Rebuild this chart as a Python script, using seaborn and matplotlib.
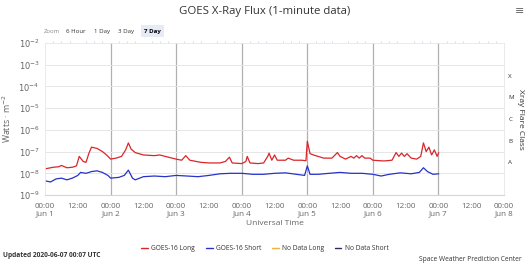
import matplotlib
matplotlib.use("Agg")
import matplotlib.pyplot as plt
import seaborn as sns
import pandas as pd
import numpy as np
from matplotlib.lines import Line2D

# ---- data (hours since 2020-06-01 00:00 UTC, W/m^2) ----
long_hours = [0, 3, 5, 6, 8, 10, 11.5, 12.5, 14, 15, 16, 17, 19, 21, 22.5, 24, 26, 28, 29.5, 30.5,
              31.5, 33, 36, 40, 42, 44, 48, 50, 51.5, 53, 57, 60, 64, 66, 67.5, 68.5, 72, 73.5, 74, 75,
              78, 80, 81.5, 82, 83, 84, 85, 88, 89, 91, 94, 95.5, 96, 97, 99, 102, 105, 107, 108, 110,
              112, 113, 114, 115, 116, 117, 119, 120, 124, 127, 128.5, 129.5, 130.5, 131.5, 132.5, 134,
              136, 137.5, 138.5, 139.5, 140.5, 141.5, 142.5, 143.5, 144.1]
long_flux = [1.6e-8, 1.9e-8, 2.0e-8, 2.3e-8, 1.8e-8, 1.9e-8, 2.2e-8, 6e-8, 3.5e-8, 3.2e-8, 8e-8, 1.6e-7,
             1.4e-7, 1.0e-7, 7e-8, 4.5e-8, 5e-8, 6e-8, 1.2e-7, 2.5e-7, 1.3e-7, 9e-8, 7e-8, 6.5e-8, 7e-8,
             6e-8, 4.5e-8, 4e-8, 6.5e-8, 4e-8, 3.2e-8, 3e-8, 3e-8, 3.5e-8, 5.5e-8, 3e-8, 2.8e-8, 3.5e-8,
             6e-8, 3e-8, 2.8e-8, 3e-8, 6e-8, 8.5e-8, 4e-8, 7e-8, 4e-8, 4e-8, 5e-8, 4e-8, 4e-8, 3.8e-8,
             3e-7, 8e-8, 6.5e-8, 5e-8, 5e-8, 9e-8, 6e-8, 4.5e-8, 6e-8, 5e-8, 6.5e-8, 5e-8, 6.5e-8, 5e-8,
             5e-8, 4e-8, 3.7e-8, 4e-8, 9e-8, 6e-8, 8.5e-8, 6e-8, 8e-8, 5e-8, 4.5e-8, 6e-8, 2.5e-7, 1e-7,
             1.6e-7, 7e-8, 1.2e-7, 6e-8, 9e-8]
short_hours = [0, 2, 4, 6, 8, 10, 12, 13, 15, 17, 19, 21, 23, 24, 27, 29, 30.5, 32, 33, 36, 40, 44, 48,
               52, 56, 60, 64, 68, 72, 76, 80, 84, 88, 92, 95, 96, 97, 100, 104, 108, 112, 116, 120,
               123, 126, 130, 134, 137, 138.5, 140, 142, 144.1]
short_flux = [4.5e-9, 4e-9, 5.5e-9, 6e-9, 5e-9, 6e-9, 8e-9, 1.1e-8, 1e-8, 1.2e-8, 1.3e-8, 1.1e-8, 8e-9,
              6e-9, 6.5e-9, 8e-9, 1.4e-8, 6e-9, 5e-9, 7e-9, 7.5e-9, 7e-9, 8e-9, 7.5e-9, 7e-9, 8e-9,
              9.5e-9, 1e-8, 1e-8, 9e-9, 9e-9, 1e-8, 1.05e-8, 9e-9, 8e-9, 2.2e-8, 9e-9, 9e-9, 1e-8,
              1.1e-8, 1e-8, 1e-8, 9e-9, 7.5e-9, 9e-9, 1.05e-8, 9.5e-9, 1.1e-8, 1.8e-8, 1.2e-8, 9e-9,
              9.5e-9]
day_labels = ["Jun 1", "Jun 2", "Jun 3", "Jun 4", "Jun 5", "Jun 6", "Jun 7", "Jun 8"]
flare_classes = ["X", "M", "C", "B", "A"]
series_names = ["GOES-16 Long", "GOES-16 Short", "No Data Long", "No Data Short"]

RED = "#d9262b"
BLUE = "#2632c8"
ORANGE = "#f2b13c"
NAVY = "#2e2a5e"
TXT = "#666666"

df = pd.concat([
    pd.DataFrame({"hours": long_hours, "flux": long_flux, "series": series_names[0]}),
    pd.DataFrame({"hours": short_hours, "flux": short_flux, "series": series_names[1]}),
])

sns.set_style("white")
plt.rcParams['font.family'] = ['Open Sans', 'DejaVu Sans']
plt.rcParams['mathtext.fontset'] = 'dejavusans'

fig = plt.figure(figsize=(5.3, 2.65), dpi=100)
ax = fig.add_axes([0.085, 0.264, 0.866, 0.574])

sns.lineplot(data=df, x="hours", y="flux", hue="series",
             palette={series_names[0]: RED, series_names[1]: BLUE},
             linewidth=0.9, ax=ax, legend=False, estimator=None, sort=False)

ax.set_yscale("log")
ax.set_ylim(1e-9, 1e-2)
ax.set_xlim(0, 168)

# grid
for d in range(1, 7):
    ax.axvline(d * 24, color="#b0b0b0", lw=0.9, zorder=0)
for e in range(-8, -2):
    ax.axhline(10.0 ** e, color="#e6e6e6", lw=0.7, zorder=0)

ax.spines["bottom"].set_color("#ccd6eb")
ax.spines["bottom"].set_linewidth(0.8)
for s in ["left", "right", "top"]:
    ax.spines[s].set_visible(True)
    ax.spines[s].set_color("#e6e6e6")
    ax.spines[s].set_linewidth(0.6)

# x ticks
xt = list(range(0, 169, 12))
xl = []
for h in xt:
    if h % 24 == 0:
        xl.append("00:00\n" + day_labels[h // 24])
    else:
        xl.append("12:00")
ax.set_xticks(xt)
ax.set_xticklabels(xl, fontsize=5.8, color=TXT, va="top", linespacing=1.05)
ax.set_xticks(range(0, 169, 3), minor=True)
ax.tick_params(axis="x", which="major", length=3, color="#ccd6eb", pad=3)
ax.tick_params(axis="x", which="minor", length=1.5, color="#ccd6eb", top=True)
for lab in ax.get_xticklabels():
    lab.set_horizontalalignment("center")

# y ticks
yt = [10.0 ** e for e in range(-9, -1)]
ax.set_yticks(yt)
ax.set_yticklabels([r"$10^{%d}$" % e for e in range(-9, -1)], fontsize=6, color=TXT)
ax.tick_params(axis="y", which="major", length=0, pad=4)
ax.tick_params(axis="y", which="minor", length=1.5, color="#cccccc", left=True)
ax.set_ylabel("Watts · m$^{-2}$", fontsize=6.3, color=TXT, labelpad=4)
ax.set_xlabel("Universal Time", fontsize=6, color=TXT, labelpad=2)

# right axis flare classes
ax2 = ax.twinx()
ax2.set_yscale("log")
ax2.set_ylim(1e-9, 1e-2)
ax2.set_yticks([10.0 ** (-3.5 - i) for i in range(5)])
ax2.set_yticklabels(flare_classes, fontsize=4.5, color="#333333")
ax2.yaxis.set_minor_locator(matplotlib.ticker.NullLocator())
ax2.tick_params(axis="y", length=0, pad=3)
for s in ax2.spines.values():
    s.set_visible(False)
ax2.set_ylabel("Xray Flare Class", fontsize=6, color="#333333", rotation=270, labelpad=7)

# title & extras
fig.text(0.5, 0.955, "GOES X-Ray Flux (1-minute data)", ha="center", va="center", fontsize=8.2, color="#333333")
fig.text(0.98, 0.96, "≡", ha="center", va="center", fontsize=8, color="#666666", family="DejaVu Sans")
fig.text(0.083, 0.883, "Zoom", fontsize=4.2, color="#888888", va="center")
fig.text(0.125, 0.883, "6 Hour", fontsize=4.4, color="#333333", va="center")
fig.text(0.178, 0.883, "1 Day", fontsize=4.4, color="#333333", va="center")
fig.text(0.222, 0.883, "3 Day", fontsize=4.4, color="#333333", va="center")
fig.text(0.271, 0.883, "7 Day", fontsize=4.4, color="#000000", va="center", weight="bold",
         bbox=dict(boxstyle="square,pad=0.5", fc="#e6ebf5", ec="none"))

handles = [Line2D([0], [0], color=c, lw=1) for c in [RED, BLUE, ORANGE, NAVY]]
fig.legend(handles, series_names, loc="center", bbox_to_anchor=(0.5, 0.062), ncol=4, frameon=False,
           fontsize=4.8, handlelength=1.0, handletextpad=0.5, columnspacing=1.6, labelcolor="#333333")
fig.text(0.005, 0.035, "Updated 2020-06-07 00:07 UTC", fontsize=4.8, weight="bold", color="#333333", va="center")
fig.text(0.985, 0.022, "Space Weather Prediction Center", fontsize=4.8, color="#333333", va="center", ha="right")

fig.savefig("out.png", dpi=100, facecolor="white")
